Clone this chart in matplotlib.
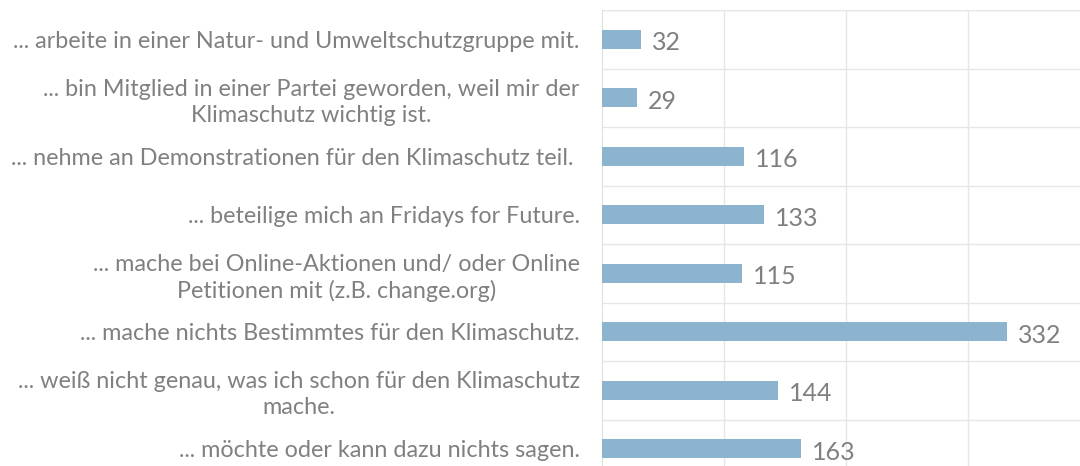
import matplotlib
matplotlib.use('Agg')
import matplotlib.pyplot as plt
import numpy as np

# Antworten (von oben nach unten)
labels = [
    "... arbeite in einer Natur- und Umweltschutzgruppe mit.",
    "... bin Mitglied in einer Partei geworden, weil mir der\nKlimaschutz wichtig ist.",
    "... nehme an Demonstrationen für den Klimaschutz teil. ",
    "... beteilige mich an Fridays for Future.",
    "... mache bei Online-Aktionen und/ oder Online\nPetitionen mit (z.B. change.org)",
    "... mache nichts Bestimmtes für den Klimaschutz.",
    "... weiß nicht genau, was ich schon für den Klimaschutz\nmache.",
    "... möchte oder kann dazu nichts sagen.",
]
values = [32, 29, 116, 133, 115, 332, 144, 163]

plt.rcParams['font.family'] = ['Lato', 'DejaVu Sans']

W, H = 1080, 466
fig = plt.figure(figsize=(W / 100, H / 100), dpi=100)
left, top = 602 / W, 1 - 10 / H
row_h = 58.5
ax_h = row_h * len(values) / H
ax_w = 488 / W
ax = fig.add_axes([left, top - ax_h, ax_w, ax_h])

y = np.arange(len(values))
ax.barh(y, values, height=0.33, color='#8cb4cf', zorder=3)
ax.set_xlim(0, 400)
ax.set_ylim(len(values) - 0.5, -0.5)

# Gitter
ax.set_xticks([100, 200, 300, 400])
ax.set_yticks(np.arange(-0.5, len(values), 1), minor=True)
ax.grid(axis='x', color='#e6e6e6', linewidth=1, zorder=0)
ax.grid(axis='y', which='minor', color='#e6e6e6', linewidth=1, zorder=0)
ax.tick_params(axis='x', bottom=False, labelbottom=False)
ax.tick_params(axis='y', which='both', left=False)
for s in ['top', 'right', 'bottom']:
    ax.spines[s].set_visible(False)
ax.spines['left'].set_color('#e0e0e0')
ax.axhline(-0.5, color='#e6e6e6', linewidth=1, zorder=0)

ax.set_yticks(y)
ax.set_yticklabels(labels, fontsize=16.8, color='#808080', linespacing=1.3,
                   multialignment='center')
ax.tick_params(axis='y', pad=12.5)

for yi, v in zip(y, values):
    ax.text(v + 9, yi + 0.06, str(v), va='center', ha='left', fontsize=18,
            color='#808080')

fig.savefig('out.png', dpi=100, facecolor='white')
